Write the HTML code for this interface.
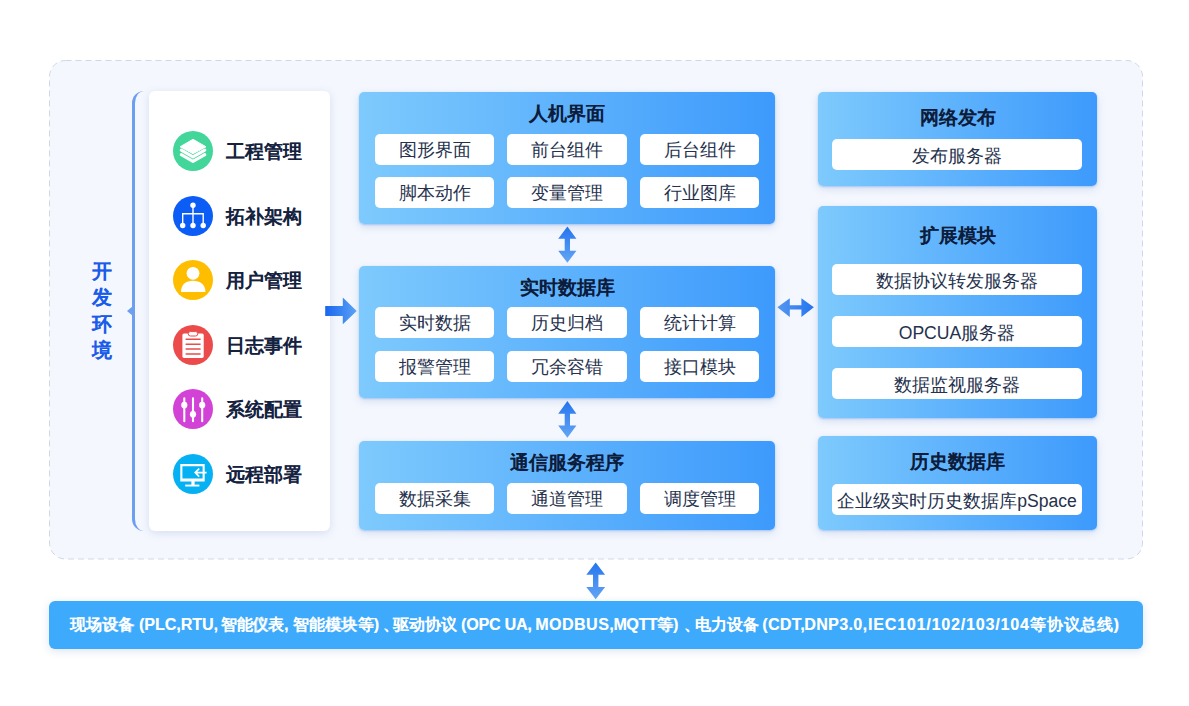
<!DOCTYPE html>
<html><head><meta charset="utf-8">
<style>
*{box-sizing:border-box;margin:0;padding:0}
html,body{width:1189px;height:706px;overflow:hidden;background:#fff;font-family:"Liberation Sans",sans-serif}
.abs{position:absolute}
#bracket{left:131.5px;top:91px;width:14px;height:440px;border-left:3px solid #6c9ff0;border-radius:12px 0 0 12px}
#notch{left:126.5px;top:306.2px;width:0;height:0;border-top:5px solid transparent;border-bottom:5px solid transparent;border-right:6.5px solid #6c9ff0}
#devtxt{left:89px;top:258px;width:26px;font-size:20px;font-weight:bold;color:#1a5be9;text-shadow:0.3px 0 0 rgba(26,91,233,.6);line-height:26.3px;text-align:center}
#white{left:149px;top:91px;width:181px;height:440px;background:#fff;border-radius:6px;box-shadow:0 2px 8px rgba(80,110,170,.18)}
.row{position:absolute;left:172.5px;width:150px;height:40px}
.row svg{position:absolute;left:0;top:0;width:40px;height:40px}
.row span{position:absolute;left:53px;top:1px;line-height:40px;font-size:19px;font-weight:bold;color:#14223f;text-shadow:0.3px 0 0 rgba(20,34,63,.5);white-space:nowrap}
.panel{position:absolute;border-radius:5px;background:linear-gradient(90deg,#7ecafd,#3d9afc);box-shadow:0 1px 2px rgba(90,165,250,.45),0 3px 9px rgba(60,95,160,.17)}
.ttl{position:absolute;left:0;right:0;text-align:center;font-size:19px;font-weight:bold;color:#0d1c3b;text-shadow:0.3px 0 0 rgba(13,28,59,.5);line-height:24px;white-space:nowrap}
.cell{position:absolute;background:#fff;border-radius:5px;text-align:center;font-size:17.6px;color:#25314d;height:31px;line-height:33px;white-space:nowrap}
#bar{left:49px;top:601px;width:1094px;height:48px;background:#3eaafc;border-radius:6px;box-shadow:0 2px 8px rgba(60,100,170,.18)}
.bt{position:absolute;top:601px;height:48px;color:#fff;font-size:16px;font-weight:bold;text-shadow:0.3px 0 0 rgba(255,255,255,.5);line-height:48px;white-space:nowrap}
.cell.rc{line-height:34.5px}
</style></head><body>
<svg class="abs" style="left:0;top:0" width="1189" height="706"><rect x="49.5" y="60.5" width="1093" height="498.5" rx="16" fill="#f4f7fe" stroke="#d0d8e5" stroke-width="1" stroke-dasharray="6 4"/></svg>
<div id="bracket" class="abs"></div>
<div id="notch" class="abs"></div>
<div id="devtxt" class="abs">开<br>发<br>环<br>境</div>
<div id="white" class="abs"></div>

<div class="row" style="top:131px">
<svg viewBox="0 0 40 40"><circle cx="20" cy="20" r="20" fill="#42d69b"/>
<g fill="none" stroke="#fff" stroke-width="3.1" stroke-linecap="round" stroke-linejoin="round">
<path d="M8.3 19.1L20 25.9L31.8 19.1"/><path d="M8.3 23.7L20 30.4L31.8 23.7"/></g>
<path d="M20 8.3L33 15.8L20 22.7L7.1 15.8Z" fill="#fff" stroke="#fff" stroke-width="1" stroke-linejoin="round"/>
</svg><span>工程管理</span></div>

<div class="row" style="top:195.5px">
<svg viewBox="0 0 40 40"><circle cx="20" cy="20" r="20" fill="#0c5cf6"/>
<g stroke="#fff" stroke-width="1.4" fill="none"><path d="M20 9.3V29.5M9.7 29.5V17.8H30.2V29.5"/></g>
<g fill="#fff"><circle cx="20" cy="9.3" r="2.7"/><circle cx="9.7" cy="29.5" r="2.7"/><circle cx="20" cy="29.5" r="2.7"/><circle cx="30.2" cy="29.5" r="2.7"/></g>
</svg><span>拓补架构</span></div>

<div class="row" style="top:260px">
<svg viewBox="0 0 40 40"><circle cx="20" cy="20" r="20" fill="#ffbd00"/>
<circle cx="20" cy="13.3" r="6.4" fill="#fff"/>
<path d="M8 31.5 C8 24.5 13 20.7 20 20.7 C27 20.7 32.4 24.5 32.4 31.5 Q32.4 32 31.9 32 H8.5 Q8 32 8 31.5Z" fill="#fff"/>
</svg><span>用户管理</span></div>

<div class="row" style="top:325px">
<svg viewBox="0 0 40 40"><circle cx="20" cy="20" r="20" fill="#ec4b4b"/>
<rect x="9.4" y="8.5" width="21.3" height="24.4" rx="1.6" fill="#fff"/>
<rect x="15.2" y="6.6" width="9.6" height="4.4" rx="2.2" fill="#fff" stroke="#ec4b4b" stroke-width="1"/>
<g stroke="#ec4b4b" stroke-width="1.5"><path d="M12.6 14.3H27.6M12.6 19.3H27.6M12.6 24H27.6M12.6 29H27.6"/></g>
</svg><span>日志事件</span></div>

<div class="row" style="top:389px">
<svg viewBox="0 0 40 40"><circle cx="20" cy="20" r="20" fill="#d342d6"/>
<g stroke="#fff" stroke-width="2.1" stroke-linecap="round"><path d="M11.3 9.2V32.2M20 9.2V32.2M29.2 9.2V32.2"/></g>
<g fill="#fff"><ellipse cx="11.3" cy="16.1" rx="3.1" ry="3.4"/><ellipse cx="20" cy="25.3" rx="3.1" ry="3.4"/><ellipse cx="29.2" cy="16.1" rx="3.1" ry="3.4"/></g>
</svg><span>系统配置</span></div>

<div class="row" style="top:454px">
<svg viewBox="0 0 40 40"><circle cx="20" cy="20" r="20" fill="#06b1f3"/>
<path d="M7.3 10.1H31.7V27.6H7.3Z M9.4 12.2V24.4H29.6V12.2Z" fill="#fff" fill-rule="evenodd"/>
<rect x="18.4" y="27" width="3.2" height="4" fill="#fff"/>
<rect x="12.2" y="30.6" width="14.2" height="1.9" fill="#fff"/>
<g stroke="#fff" stroke-width="1.6" fill="none"><path d="M22.5 18.6H33.6M26.2 14.6L22.2 18.6L26.2 22.6"/></g>
</svg><span>远程部署</span></div>

<!-- middle panels -->
<div class="panel" style="left:359px;top:92px;width:416px;height:132px">
<div class="ttl" style="top:10px">人机界面</div>
<div class="cell" style="left:16px;top:42px;width:119px">图形界面</div>
<div class="cell" style="left:148px;top:42px;width:120px">前台组件</div>
<div class="cell" style="left:281px;top:42px;width:119px">后台组件</div>
<div class="cell" style="left:16px;top:85px;width:119px">脚本动作</div>
<div class="cell" style="left:148px;top:85px;width:120px">变量管理</div>
<div class="cell" style="left:281px;top:85px;width:119px">行业图库</div>
</div>

<div class="panel" style="left:359px;top:266px;width:416px;height:132px">
<div class="ttl" style="top:10px">实时数据库</div>
<div class="cell" style="left:16px;top:41px;width:119px">实时数据</div>
<div class="cell" style="left:148px;top:41px;width:120px">历史归档</div>
<div class="cell" style="left:281px;top:41px;width:119px">统计计算</div>
<div class="cell" style="left:16px;top:85px;width:119px">报警管理</div>
<div class="cell" style="left:148px;top:85px;width:120px">冗余容错</div>
<div class="cell" style="left:281px;top:85px;width:119px">接口模块</div>
</div>

<div class="panel" style="left:359px;top:441px;width:416px;height:89px">
<div class="ttl" style="top:10px">通信服务程序</div>
<div class="cell" style="left:16px;top:42px;width:119px">数据采集</div>
<div class="cell" style="left:148px;top:42px;width:120px">通道管理</div>
<div class="cell" style="left:281px;top:42px;width:119px">调度管理</div>
</div>

<!-- right panels -->
<div class="panel" style="left:818px;top:92px;width:279px;height:94px">
<div class="ttl" style="top:14px">网络发布</div>
<div class="cell rc" style="left:14px;top:47px;width:250px">发布服务器</div>
</div>
<div class="panel" style="left:818px;top:206px;width:279px;height:212px">
<div class="ttl" style="top:18px">扩展模块</div>
<div class="cell rc" style="left:14px;top:57.5px;width:250px">数据协议转发服务器</div>
<div class="cell rc" style="left:14px;top:109.6px;width:250px">OPCUA服务器</div>
<div class="cell rc" style="left:14px;top:161.8px;width:250px">数据监视服务器</div>
</div>
<div class="panel" style="left:818px;top:436px;width:279px;height:94px">
<div class="ttl" style="top:13.5px">历史数据库</div>
<div class="cell rc" style="left:14px;top:47.5px;width:250px">企业级实时历史数据库pSpace</div>
</div>

<!-- arrows -->
<svg class="abs" style="left:0;top:0" width="1189" height="706">
<defs>
<linearGradient id="ga" x1="0" x2="1" y1="0" y2="0"><stop offset="0" stop-color="#1966ef"/><stop offset="1" stop-color="#5aa2f6"/></linearGradient>
<linearGradient id="gv" x1="0" x2="0" y1="0" y2="1"><stop offset="0" stop-color="#2474ef"/><stop offset="1" stop-color="#64a6f4"/></linearGradient>
<linearGradient id="gh" x1="0" x2="1" y1="0" y2="0"><stop offset="0" stop-color="#5598f1"/><stop offset="1" stop-color="#2674f0"/></linearGradient>
</defs>
<path d="M325.2 306H342.8V297.4L356.7 311L342.8 324.2V316H325.2Z" fill="url(#ga)"/>
<path d="M777.4 307.3L789.8 298.2V305.2H801.4V298.2L813.9 307.3L801.4 316.9V309.5H789.8V316.9Z" fill="url(#gh)"/>
<path d="M567.4 226.5L576.4 238.8H570V250.8H576.4L567.4 262.8L558.2 250.8H564.7V238.8H558.2Z" fill="url(#gv)"/>
<path d="M567.4 401L576.4 413.8H570V425.4H576.4L567.4 437.8L558.2 425.4H564.7V413.8H558.2Z" fill="url(#gv)"/>
<path d="M595.7 562.4L605.1 574.8H598.4V586.9H605.1L595.7 599.2L586.3 586.9H593V574.8H586.3Z" fill="url(#gv)"/>
</svg>

<div id="bar" class="abs"></div>
<div class="bt" style="left:70.00px;letter-spacing:0.133px">现场设备</div>
<div class="bt" style="left:139.00px;letter-spacing:-0.025px">(PLC,RTU,</div>
<div class="bt" style="left:220.80px;letter-spacing:-0.200px">智能仪表,</div>
<div class="bt" style="left:293.00px;letter-spacing:0.160px">智能模块等)</div>
<div class="bt" style="left:383.20px;letter-spacing:0.000px">、</div>
<div class="bt" style="left:392.60px;letter-spacing:0.067px">驱动协议</div>
<div class="bt" style="left:461.00px;letter-spacing:-0.171px">(OPC UA,</div>
<div class="bt" style="left:535.20px;letter-spacing:0.500px">MODBUS,</div>
<div class="bt" style="left:613.40px;letter-spacing:-0.360px">MQTT等)</div>
<div class="bt" style="left:684.00px;letter-spacing:0.000px">、</div>
<div class="bt" style="left:695.00px;letter-spacing:0.000px">电力设备</div>
<div class="bt" style="left:762.20px;letter-spacing:0.400px">(CDT,</div>
<div class="bt" style="left:804.20px;letter-spacing:0.400px">DNP3.0,</div>
<div class="bt" style="left:868.00px;letter-spacing:0.824px">IEC101/102/103/104</div>
<div class="bt" style="left:1030.20px;letter-spacing:0.680px">等协议总线)</div>
</body></html>
